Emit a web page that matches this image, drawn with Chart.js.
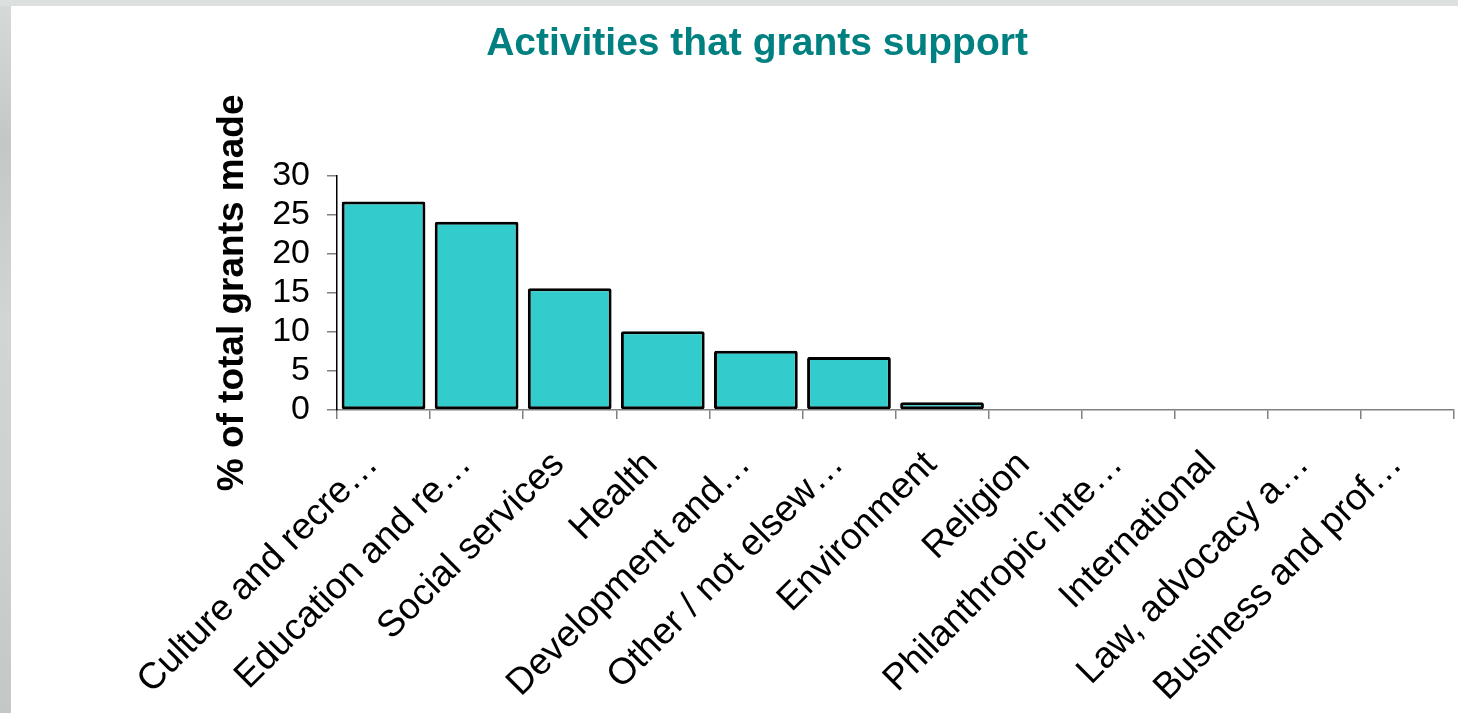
<!DOCTYPE html>
<html>
<head>
<meta charset="utf-8">
<script src="https://cdn.jsdelivr.net/npm/chart.js@4"></script>
<style>
  html, body { margin: 0; padding: 0; width: 1458px; height: 713px; overflow: hidden; }
  body { background: linear-gradient(to bottom, #d6dbd9 0%, #c3c8c6 20%, #d1d6d4 45%, #cdd2d0 70%, #c3c8c6 100%); position: relative; }
  #panel { position: absolute; left: 11px; top: 6px; right: 0; bottom: 0; background: #ffffff; }
  #topband { position: absolute; left: 0; top: 0; right: 0; height: 6px; background: #dce0df; }
  #wrap { position: absolute; left: 0; top: 0; width: 1458px; height: 713px; }
</style>
</head>
<body>
<div id="topband"></div>
<div id="panel"></div>
<div id="wrap"><canvas id="c" width="1458" height="713"></canvas></div>
<script>
const categories = [
  "Culture and recre\u2026",
  "Education and re\u2026",
  "Social services",
  "Health",
  "Development and\u2026",
  "Other / not elsew\u2026",
  "Environment",
  "Religion",
  "Philanthropic inte\u2026",
  "International",
  "Law, advocacy a\u2026",
  "Business and prof\u2026"
];
const percentOfGrants = [26.7, 24.1, 15.6, 10.1, 7.6, 6.8, 1.0, 0, 0, 0, 0, 0];
const yTicks = [0, 5, 10, 15, 20, 25, 30];
const chartTitle = "Activities that grants support";
const yAxisTitle = "% of total grants made";

const FONT = "'Liberation Sans', Arial, Helvetica, sans-serif";

new Chart(document.getElementById('c'), {
  type: 'bar',
  data: {
    labels: categories,
    datasets: [{
      data: percentOfGrants,
      backgroundColor: '#33CCCC',
      borderColor: '#000000',
      borderWidth: 3,
      borderRadius: 2,
      borderSkipped: false,
      categoryPercentage: 0.9,
      barPercentage: 1.0
    }]
  },
  options: {
    responsive: false,
    animation: false,
    devicePixelRatio: 1,
    layout: { padding: { left: 60, right: 4, top: 0, bottom: 0 } },
    plugins: {
      legend: { display: false },
      tooltip: { enabled: false },
      title: {
        display: true,
        text: chartTitle,
        color: '#008080',
        font: { family: FONT, size: 39, weight: 'bold' },
        padding: { top: 21, bottom: 108 }
      }
    },
    scales: {
      x: {
        afterFit: (s) => { s.height = 303; s.paddingLeft = 0; s.paddingRight = 0; },
        grid: { drawOnChartArea: false, offset: true, tickLength: 9, color: '#808080', lineWidth: 1.5 },
        border: { display: true, color: '#808080', width: 1.5 },
        ticks: {
          autoSkip: false, maxRotation: 45, minRotation: 45,
          color: '#000000', padding: 24, labelOffset: -11,
          font: { family: FONT, size: 37 }
        }
      },
      y: {
        min: 0, max: 30,
        afterFit: (s) => { s.width = 277; },
        afterBuildTicks: (s) => { s.ticks = yTicks.map(v => ({ value: v })); },
        grid: { drawOnChartArea: false, tickLength: 10, color: '#808080', lineWidth: 1.5 },
        border: { display: true, color: '#000000', width: 1.5 },
        ticks: { autoSkip: false, color: '#000000', padding: 17, font: { family: FONT, size: 34 } },
        title: {
          display: true,
          text: yAxisTitle,
          color: '#000000',
          font: { family: FONT, size: 37, weight: 'bold' },
          padding: { top: 151, bottom: 0 }
        }
      }
    }
  }
});
</script>
</body>
</html>
